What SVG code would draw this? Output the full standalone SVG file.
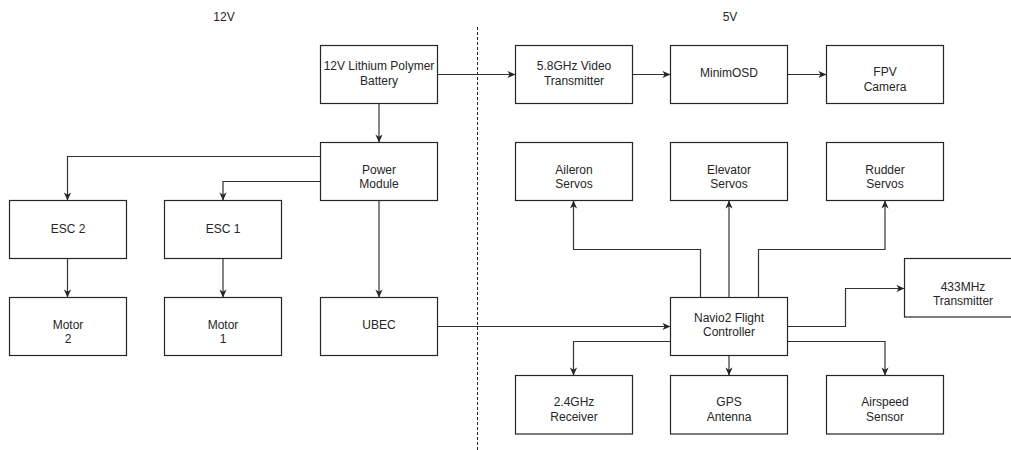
<svg xmlns="http://www.w3.org/2000/svg" width="1011" height="450" viewBox="0 0 1011 450">
<style>
.box{fill:#fff;stroke:#262626;stroke-width:1.2}
.t{font-family:"Liberation Sans",Arial,sans-serif;font-size:12px;fill:#262626;text-anchor:middle}
.c{fill:none;stroke:#333;stroke-width:1.2}
.dash{fill:none;stroke:#262626;stroke-width:1;stroke-dasharray:3 2}
</style>
<defs>
<marker id="arr" viewBox="0 0 10 8" refX="9" refY="4" markerWidth="9" markerHeight="8" markerUnits="userSpaceOnUse" orient="auto">
<path d="M0,0 L9,4 L0,8 L2.5,4 Z" fill="#262626"/>
</marker>
</defs>
<rect width="1011" height="450" fill="#fff"/>
<text class="t" x="224" y="21">12V</text>
<text class="t" x="730" y="21">5V</text>
<line class="dash" x1="477.5" y1="27" x2="477.5" y2="450"/>
<g id="connectors">
<path class="c" d="M437.5 74.5 H515.5" marker-end="url(#arr)"/>
<path class="c" d="M632.5 74.5 H670.5" marker-end="url(#arr)"/>
<path class="c" d="M787.5 74.5 H826.5" marker-end="url(#arr)"/>
<path class="c" d="M379 103.5 V142.5" marker-end="url(#arr)"/>
<path class="c" d="M320.5 156.5 H67.5 V200.5" marker-end="url(#arr)"/>
<path class="c" d="M320.5 181.5 H223 V200.5" marker-end="url(#arr)"/>
<path class="c" d="M379 200.5 V297.5" marker-end="url(#arr)"/>
<path class="c" d="M67.5 258.5 V297.5" marker-end="url(#arr)"/>
<path class="c" d="M223 258.5 V297.5" marker-end="url(#arr)"/>
<path class="c" d="M437.5 326.5 H670.5" marker-end="url(#arr)"/>
<path class="c" d="M700.5 297.5 V249.5 H573.5 V200.5" marker-end="url(#arr)"/>
<path class="c" d="M729 297.5 V200.5" marker-end="url(#arr)"/>
<path class="c" d="M758.5 297.5 V249.5 H885 V200.5" marker-end="url(#arr)"/>
<path class="c" d="M787.5 326.5 H845.5 V288.5 H904.5" marker-end="url(#arr)"/>
<path class="c" d="M670.5 341.5 H573.5 V375.5" marker-end="url(#arr)"/>
<path class="c" d="M729 355.5 V375.5" marker-end="url(#arr)"/>
<path class="c" d="M787.5 341.5 H885 V375.5" marker-end="url(#arr)"/>
</g>
<g id="battery"><rect class="box" x="320.5" y="45.5" width="117" height="58"/><text class="t" x="379" y="69.5">12V Lithium Polymer</text><text class="t" x="379" y="84.5">Battery</text></g>
<g id="videotx"><rect class="box" x="515.5" y="45.5" width="117" height="58"/><text class="t" x="574" y="69.5">5.8GHz Video</text><text class="t" x="574" y="84.5">Transmitter</text></g>
<g id="minimosd"><rect class="box" x="670.5" y="45.5" width="117" height="58"/><text class="t" x="729" y="76.5">MinimOSD</text></g>
<g id="fpv"><rect class="box" x="826.5" y="45.5" width="117" height="58"/><text class="t" x="885" y="76">FPV</text><text class="t" x="885" y="90.5">Camera</text></g>
<g id="powermodule"><rect class="box" x="320.5" y="142.5" width="117" height="58"/><text class="t" x="379" y="173.5">Power</text><text class="t" x="379" y="187.5">Module</text></g>
<g id="aileron"><rect class="box" x="515.5" y="142.5" width="117" height="58"/><text class="t" x="574" y="173.5">Aileron</text><text class="t" x="574" y="187.5">Servos</text></g>
<g id="elevator"><rect class="box" x="670.5" y="142.5" width="117" height="58"/><text class="t" x="729" y="173.5">Elevator</text><text class="t" x="729" y="187.5">Servos</text></g>
<g id="rudder"><rect class="box" x="826.5" y="142.5" width="117" height="58"/><text class="t" x="885" y="173.5">Rudder</text><text class="t" x="885" y="187.5">Servos</text></g>
<g id="esc2"><rect class="box" x="9.5" y="200.5" width="117" height="58"/><text class="t" x="68" y="232.5">ESC 2</text></g>
<g id="esc1"><rect class="box" x="164.5" y="200.5" width="117" height="58"/><text class="t" x="223" y="232.5">ESC 1</text></g>
<g id="tx433"><rect class="box" x="904.5" y="258.5" width="117" height="58.5"/><text class="t" x="963" y="290.5">433MHz</text><text class="t" x="963" y="304.5">Transmitter</text></g>
<g id="motor2"><rect class="box" x="9.5" y="297.5" width="117" height="58"/><text class="t" x="68" y="328.5">Motor</text><text class="t" x="68" y="343">2</text></g>
<g id="motor1"><rect class="box" x="164.5" y="297.5" width="117" height="58"/><text class="t" x="223" y="328.5">Motor</text><text class="t" x="223" y="343">1</text></g>
<g id="ubec"><rect class="box" x="320.5" y="297.5" width="117" height="58"/><text class="t" x="379" y="328.5">UBEC</text></g>
<g id="navio"><rect class="box" x="670.5" y="297.5" width="117" height="58"/><text class="t" x="729" y="322">Navio2 Flight</text><text class="t" x="729" y="336">Controller</text></g>
<g id="receiver"><rect class="box" x="515.5" y="375.5" width="117" height="58.5"/><text class="t" x="574" y="406">2.4GHz</text><text class="t" x="574" y="421">Receiver</text></g>
<g id="gps"><rect class="box" x="670.5" y="375.5" width="117" height="58.5"/><text class="t" x="729" y="406">GPS</text><text class="t" x="729" y="421">Antenna</text></g>
<g id="airspeed"><rect class="box" x="826.5" y="375.5" width="117" height="58.5"/><text class="t" x="885" y="406">Airspeed</text><text class="t" x="885" y="421">Sensor</text></g>
</svg>
